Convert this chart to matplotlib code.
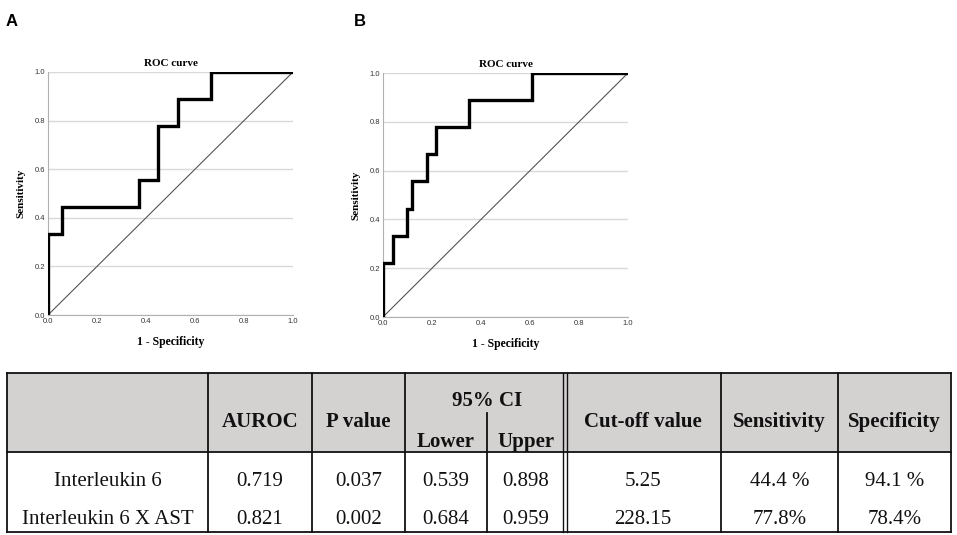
import matplotlib
matplotlib.use('Agg')
import matplotlib.pyplot as plt

# ROC curve A (Interleukin 6): step vertices (1 - specificity, sensitivity)
roc_a_fpr = [0.0, 0.0, 0.057, 0.057, 0.37, 0.37, 0.45, 0.45, 0.53, 0.53, 0.667, 0.667, 1.0]
roc_a_tpr = [0.0, 0.333, 0.333, 0.444, 0.444, 0.556, 0.556, 0.778, 0.778, 0.889, 0.889, 1.0, 1.0]

# ROC curve B (Interleukin 6 X AST)
roc_b_fpr = [0.0, 0.0, 0.039, 0.039, 0.099, 0.099, 0.118, 0.118, 0.179, 0.179,
             0.217, 0.217, 0.353, 0.353, 0.609, 0.609, 1.0]
roc_b_tpr = [0.0, 0.222, 0.222, 0.333, 0.333, 0.444, 0.444, 0.556, 0.556, 0.667,
             0.667, 0.778, 0.778, 0.889, 0.889, 1.0, 1.0]

ticks = [0.0, 0.2, 0.4, 0.6, 0.8, 1.0]
tick_labels = ["0.0", "0.2", "0.4", "0.6", "0.8", "1.0"]

# table contents
row_names = ["Interleukin 6", "Interleukin 6 X AST"]
auroc = ["0.719", "0.821"]
p_value = ["0.037", "0.002"]
ci_lower = ["0.539", "0.684"]
ci_upper = ["0.898", "0.959"]
cutoff = ["5.25", "228.15"]
sensitivity = ["44.4 %", "77.8%"]
specificity = ["94.1 %", "78.4%"]

W, H = 957, 535
fig = plt.figure(figsize=(W / 100, H / 100), dpi=100)
fig.patch.set_facecolor('white')

SERIF = ['Liberation Serif', 'DejaVu Serif']
SANS = ['Liberation Sans', 'DejaVu Sans']


def roc_panel(rect, fpr, tpr):
    ax = fig.add_axes(rect)
    ax.set_xlim(0, 1)
    ax.set_ylim(0, 1)
    ax.yaxis.grid(True, color='#d9d9d9', lw=1.0)
    ax.set_axisbelow(True)
    ax.plot([0, 1], [0, 1], color='#555555', lw=0.8, zorder=2)
    ax.plot(fpr, tpr, color='black', lw=2.4, solid_joinstyle='miter', zorder=3)
    ax.set_xticks(ticks)
    ax.set_xticklabels(tick_labels, family=SANS, fontsize=5.5, color='#333333')
    ax.set_yticks(ticks)
    ax.set_yticklabels(tick_labels, family=SANS, fontsize=5.5, color='#333333')
    ax.tick_params(length=0, pad=2)
    for s in ['top', 'right']:
        ax.spines[s].set_visible(False)
    for s in ['left', 'bottom']:
        ax.spines[s].set_color('#b0b0b0')
        ax.spines[s].set_linewidth(0.8)
    ax.set_title("ROC curve", family=SERIF, fontsize=8, fontweight='bold', pad=4)
    ax.set_xlabel("1 - Specificity", family=SERIF, fontsize=8.5, fontweight='bold', labelpad=8)
    ax.set_ylabel("Sensitivity", family=SERIF, fontsize=8, fontweight='bold', labelpad=7)
    return ax


roc_panel([48 / W, 1 - 315 / H, 245 / W, 243 / H], roc_a_fpr, roc_a_tpr)
roc_panel([383 / W, 1 - 317 / H, 245 / W, 244 / H], roc_b_fpr, roc_b_tpr)

fig.text(12 / W, 1 - 22 / H, "A", family=SANS, fontsize=12, fontweight='bold', va='center', ha='center')
fig.text(360 / W, 1 - 22 / H, "B", family=SANS, fontsize=12, fontweight='bold', va='center', ha='center')

# table drawn on an overlay axes in pixel coordinates
tab = fig.add_axes([0, 0, 1, 1])
tab.set_xlim(0, W)
tab.set_ylim(H, 0)
tab.axis('off')
tab.patch.set_alpha(0)

left, right = 7, 951
top, head_bot, bottom = 373, 452, 532
col_x = [left, 208, 312, 405, 565, 721, 838, right]
ci_split = 487

tab.fill_between([left, right], top, head_bot, color='#d4d1d1', lw=0, zorder=0)

lc = '#111111'
for y in [top, head_bot, bottom]:
    tab.plot([left, right], [y, y], color=lc, lw=1.3, zorder=2)
for x in col_x:
    if x == 565:
        tab.plot([x - 2, x - 2], [top, bottom], color=lc, lw=1.0, zorder=2)
        tab.plot([x + 2, x + 2], [top, bottom], color=lc, lw=1.0, zorder=2)
    else:
        tab.plot([x, x], [top, bottom], color=lc, lw=1.3, zorder=2)
tab.plot([ci_split, ci_split], [413, bottom], color=lc, lw=1.3, zorder=2)

hfont = dict(family=SERIF, fontsize=15, fontweight='bold', ha='center', va='center', color='#111111')
bfont = dict(family=SERIF, fontsize=15, ha='center', va='center', color='#111111')


def cx(i):
    return (col_x[i] + col_x[i + 1]) / 2


head_y = 422
tab.text(cx(1), head_y, "AUROC", **hfont)
tab.text(cx(2), head_y, "P value", **hfont)
tab.text(ci_split, 401, "95% CI", **hfont)
tab.text((col_x[3] + ci_split) / 2, 442, "Lower", **hfont)
tab.text((ci_split + col_x[4]) / 2, 442, "Upper", **hfont)
tab.text(cx(4), head_y, "Cut-off value", **hfont)
tab.text(cx(5), head_y, "Sensitivity", **hfont)
tab.text(cx(6), head_y, "Specificity", **hfont)

row_y = [482, 519]
for r, y in enumerate(row_y):
    tab.text(cx(0), y, row_names[r], **bfont)
    tab.text(cx(1), y, auroc[r], **bfont)
    tab.text(cx(2), y, p_value[r], **bfont)
    tab.text((col_x[3] + ci_split) / 2, y, ci_lower[r], **bfont)
    tab.text((ci_split + col_x[4]) / 2, y, ci_upper[r], **bfont)
    tab.text(cx(4), y, cutoff[r], **bfont)
    tab.text(cx(5), y, sensitivity[r], **bfont)
    tab.text(cx(6), y, specificity[r], **bfont)

fig.savefig("out.png", dpi=100, facecolor='white')
